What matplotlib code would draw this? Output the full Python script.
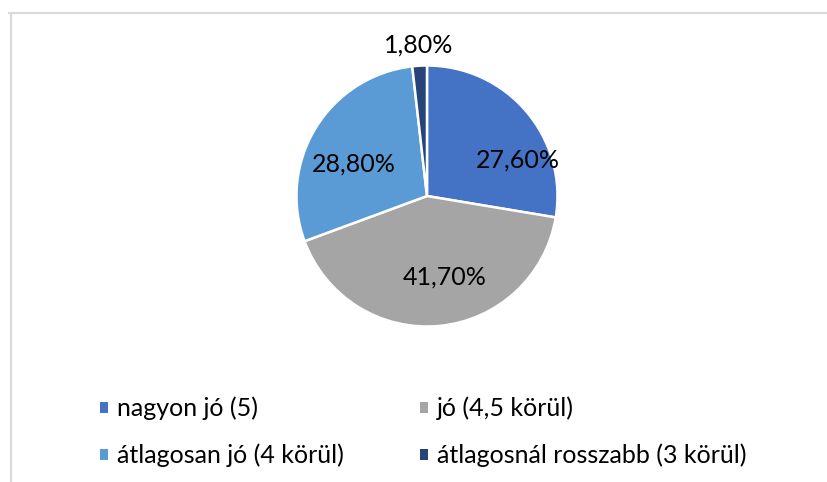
import numpy as np
import matplotlib.pyplot as plt
from matplotlib.patches import Patch
from matplotlib.lines import Line2D

plt.rcParams['font.family'] = ['Lato', 'DejaVu Sans']

categories = ['nagyon jó (5)', 'jó (4,5 körül)', 'átlagosan jó (4 körül)',
              'átlagosnál rosszabb (3 körül)']
values = [27.6, 41.7, 28.8, 1.8]
labels = ['27,60%', '41,70%', '28,80%', '1,80%']
colors = ['#4472C4', '#A5A5A5', '#5B9BD5', '#264478']

fig = plt.figure(figsize=(8.27, 4.82), dpi=100)
ax = fig.add_axes([0.3585, 0.3226, 0.3156, 0.5415])

wedges, _ = ax.pie(values, colors=colors, startangle=90, counterclock=False,
                   wedgeprops=dict(edgecolor='white', linewidth=1.8))
ax.set_xlim(-1, 1)
ax.set_ylim(-1, 1)
ax.set_aspect('equal')
ax.axis('off')

# label placement (radius, angle shift) similar to Excel "best fit"
placement = [(0.75, -19), (0.64, 7), (0.61, 8), (1.16, 0)]
for w, lab, (r, shift) in zip(wedges, labels, placement):
    ang = np.deg2rad((w.theta1 + w.theta2) / 2 + shift)
    ax.text(r * np.cos(ang), r * np.sin(ang), lab, ha='center', va='center',
            fontsize=18, color='#000000')

# legend filled row by row like Excel
order = [0, 2, 1, 3]
handles = [Patch(facecolor=colors[i], edgecolor='none') for i in order]
fig.legend(handles, [categories[i] for i in order], ncol=2, loc='upper left',
           bbox_to_anchor=(0.1205, 0.177), frameon=False, fontsize=18,
           handlelength=0.33, handleheight=0.33, handletextpad=0.36,
           columnspacing=3.04, labelspacing=0.94, borderpad=0,
           borderaxespad=0)

# chart area border (only top and left visible in the crop)
fig.add_artist(Line2D([9 / 827, 1], [1 - 12.5 / 482, 1 - 12.5 / 482],
                      transform=fig.transFigure, color='#D9D9D9', linewidth=1.5))
fig.add_artist(Line2D([10.5 / 827, 10.5 / 827], [0, 1 - 12.5 / 482],
                      transform=fig.transFigure, color='#D9D9D9', linewidth=1.5))

fig.savefig('out.png', dpi=100)
